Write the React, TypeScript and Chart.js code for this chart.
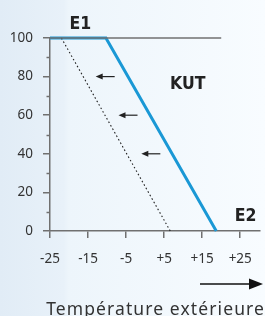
import { useEffect, useRef } from "react";
import { Chart, registerables } from "chart.js";

Chart.register(...registerables);

// ---- data ----
const xTickValues = [-25, -15, -5, 5, 15, 25];
const xTickLabels = ["-25", "-15", "-5", "+5", "+15", "+25"];
const yTickValues = [0, 20, 40, 60, 80, 100];
const yTickLabels = ["0", "20", "40", "60", "80", "100"];
const yMinorTicks = [10, 30, 50, 70, 90];

const kutX = [-25, -10.3, 18.7];
const kutY = [100, 100, 0];
const shiftedX = [-22, 6.6];
const shiftedY = [100, 0];
const topLineX = [-25, 20];
const topLineY = [100, 100];

const arrowFromX = [-8, -2, 4];
const arrowToX = [-13, -7, -1];
const arrowY = [80, 60, 40];

const annotationTexts = ["E1", "KUT", "E2"];
const annotationX = [-17, 11.2, 26.4];
const annotationY = [106.8, 76, 7.6];

const axisTitle = "Température extérieure";

const toPoints = (xs: number[], ys: number[]) => xs.map((x, i) => ({ x, y: ys[i] }));

const GRAY = "#707070";
const TEXT = "#333333";

const decorPlugin = {
  id: "decor",
  beforeDraw(chart: any) {
    const { ctx, width, height } = chart;
    ctx.save();
    const g = ctx.createLinearGradient(0, 0, width, 0);
    g.addColorStop(0, "#e1ecf6");
    g.addColorStop(0.24, "#e8f1f9");
    g.addColorStop(0.26, "#edf5fb");
    g.addColorStop(1, "#f8fcff");
    ctx.fillStyle = g;
    ctx.fillRect(0, 0, width, height);
    ctx.restore();
  },
  afterDraw(chart: any) {
    const { ctx } = chart;
    const xs = chart.scales.x;
    const ys = chart.scales.y;
    ctx.save();
    // minor ticks
    ctx.strokeStyle = GRAY;
    ctx.lineWidth = 1.5;
    yMinorTicks.forEach((v) => {
      const py = Math.round(ys.getPixelForValue(v)) + 0.5;
      ctx.beginPath();
      ctx.moveTo(ys.right - 3.5, py);
      ctx.lineTo(ys.right, py);
      ctx.stroke();
    });
    // shift arrows
    ctx.strokeStyle = "#222";
    ctx.fillStyle = "#222";
    ctx.lineWidth = 1.2;
    arrowY.forEach((v, i) => {
      const py = ys.getPixelForValue(v);
      const x1 = xs.getPixelForValue(arrowFromX[i]);
      const x2 = xs.getPixelForValue(arrowToX[i]);
      ctx.beginPath();
      ctx.moveTo(x1, py);
      ctx.lineTo(x2 + 5, py);
      ctx.stroke();
      ctx.beginPath();
      ctx.moveTo(x2, py);
      ctx.lineTo(x2 + 7, py - 3);
      ctx.lineTo(x2 + 7, py + 3);
      ctx.closePath();
      ctx.fill();
    });
    // annotations
    ctx.fillStyle = "#222";
    ctx.font = "bold 17.5px 'DejaVu Sans Condensed', 'DejaVu Sans', sans-serif";
    ctx.textAlign = "center";
    ctx.textBaseline = "middle";
    annotationTexts.forEach((t, i) => {
      ctx.fillText(t, xs.getPixelForValue(annotationX[i]), ys.getPixelForValue(annotationY[i]));
    });
    // bottom arrow
    const ay = 284;
    ctx.strokeStyle = "#111";
    ctx.fillStyle = "#111";
    ctx.lineWidth = 1.3;
    ctx.beginPath();
    ctx.moveTo(200, ay);
    ctx.lineTo(252, ay);
    ctx.stroke();
    ctx.beginPath();
    ctx.moveTo(263, ay);
    ctx.lineTo(249, ay - 5.5);
    ctx.lineTo(249, ay + 5.5);
    ctx.closePath();
    ctx.fill();
    // axis title
    ctx.fillStyle = TEXT;
    ctx.font = "17.5px 'Noto Sans', sans-serif";
    (ctx as any).letterSpacing = "1.1px";
    ctx.textAlign = "right";
    ctx.textBaseline = "alphabetic";
    ctx.fillText(axisTitle, 265, 315);
    ctx.restore();
  },
};

export default function App() {
  const ref = useRef<HTMLCanvasElement | null>(null);
  useEffect(() => {
    if (!ref.current) return;
    const tickFont = { family: "'Noto Sans', sans-serif", size: 13.5 };
    const chart = new Chart(ref.current, {
      type: "line",
      data: {
        datasets: [
          {
            data: toPoints(topLineX, topLineY),
            borderColor: GRAY,
            borderWidth: 1.5,
            pointRadius: 0,
          },
          {
            data: toPoints(shiftedX, shiftedY),
            borderColor: "#222",
            borderWidth: 1.1,
            borderDash: [1.6, 2.4],
            pointRadius: 0,
          },
          {
            data: toPoints(kutX, kutY),
            borderColor: "#1a98d5",
            borderWidth: 3,
            pointRadius: 0,
            borderJoinStyle: "miter",
          },
        ],
      },
      options: {
        animation: false,
        responsive: false,
        maintainAspectRatio: false,
        layout: { padding: { top: 38, right: 2, left: 0, bottom: 0 } },
        plugins: { legend: { display: false }, tooltip: { enabled: false } },
        elements: { line: { tension: 0 } },
        datasets: { line: { clip: false } as any },
        scales: {
          x: {
            type: "linear",
            min: -25,
            max: 30,
            afterBuildTicks: (s: any) => {
              s.ticks = xTickValues.map((v) => ({ value: v }));
            },
            afterFit: (s: any) => {
              s.height = 85;
            },
            ticks: {
              autoSkip: false,
              maxRotation: 0,
              padding: 13,
              color: TEXT,
              font: tickFont,
              callback: (_v: any, i: number) => xTickLabels[i],
            },
            grid: { drawOnChartArea: false, drawTicks: true, tickLength: 7, color: GRAY, lineWidth: 1.5 },
            border: { color: GRAY, width: 1.5 },
          },
          y: {
            type: "linear",
            min: 0,
            max: 100,
            afterBuildTicks: (s: any) => {
              s.ticks = yTickValues.map((v) => ({ value: v }));
            },
            afterFit: (s: any) => {
              s.width = 50;
            },
            ticks: {
              autoSkip: false,
              padding: 10,
              color: TEXT,
              font: tickFont,
              callback: (_v: any, i: number) => yTickLabels[i],
            },
            grid: { drawOnChartArea: false, drawTicks: true, tickLength: 7, color: GRAY, lineWidth: 1.5 },
            border: { color: GRAY, width: 1.5 },
          },
        },
      },
      plugins: [decorPlugin],
    });
    return () => chart.destroy();
  }, []);
  return (
    <div style={{ position: "fixed", left: 0, top: 0, width: 265, height: 316 }}>
      <canvas ref={ref} width={265} height={316} style={{ display: "block", width: 265, height: 316 }} />
    </div>
  );
}
